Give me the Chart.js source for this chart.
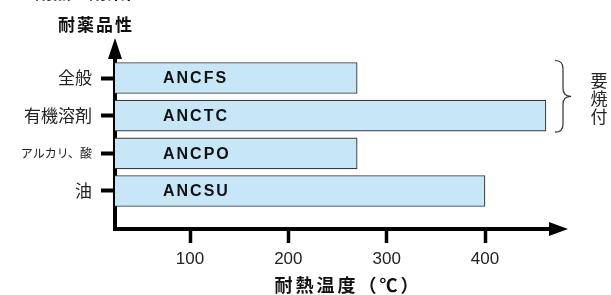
<!DOCTYPE html>
<html>
<head>
<meta charset="utf-8">
<script src="https://cdn.jsdelivr.net/npm/chart.js@4/dist/chart.umd.min.js"></script>
<style>
html,body{margin:0;padding:0;background:#fff;}
#wrap{width:611px;height:295px;position:relative;}
</style>
</head>
<body>
<div id="wrap"><canvas id="c"></canvas></div>
<script>
// ---- data ----
const categories = ['全般', '有機溶剤', 'アルカリ、酸', '油'];
const products = ['ANCFS', 'ANCTC', 'ANCPO', 'ANCSU'];
const heatTemps = [270, 462, 270, 400];
const xTickValues = [100, 200, 300, 400];
const xTitle = '耐熱温度（℃）';
const yTitle = '耐薬品性';
const bracketNote = ['要', '焼', '付'];
const topHeading = '■耐熱・耐薬性';

const JP = '"Noto Sans CJK JP", "Noto Sans", sans-serif';
const LAT = '"Liberation Sans", Arial, sans-serif';

const points = heatTemps.map((v, i) => ({ x: v, y: i }));

const decor = {
  id: 'decor',
  afterDraw(chart) {
    const ctx = chart.ctx;
    const a = chart.chartArea;
    const meta = chart.getDatasetMeta(0);
    ctx.save();
    // corner fill
    ctx.fillStyle = '#000';
    ctx.fillRect(a.left - 2, a.bottom - 2, 4, 4);
    // y arrow
    ctx.beginPath();
    ctx.moveTo(a.left, a.top - 20);
    ctx.lineTo(a.left - 7, a.top + 1);
    ctx.lineTo(a.left + 7, a.top + 1);
    ctx.closePath();
    ctx.fill();
    // x arrow
    ctx.beginPath();
    ctx.moveTo(a.right + 18, a.bottom);
    ctx.lineTo(a.right - 1, a.bottom - 7);
    ctx.lineTo(a.right - 1, a.bottom + 7);
    ctx.closePath();
    ctx.fill();

    // bar labels
    ctx.fillStyle = '#111';
    ctx.font = 'bold 16px ' + LAT;
    ctx.letterSpacing = '2px';
    ctx.textAlign = 'left';
    ctx.textBaseline = 'middle';
    meta.data.forEach((bar, i) => {
      ctx.fillText(products[i], a.left + 48, bar.y + 1);
    });
    ctx.letterSpacing = '0px';

    // y title
    ctx.fillStyle = '#111';
    ctx.font = 'bold 17px ' + JP;
    ctx.letterSpacing = '2px';
    ctx.textAlign = 'center';
    ctx.fillText(yTitle, a.left - 19, 25);
    // x title
    ctx.font = 'bold 18px ' + JP;
    ctx.letterSpacing = '3px';
    ctx.fillText(xTitle, 348, 285);
    ctx.letterSpacing = '0px';

    // top heading (cut off)
    ctx.font = 'bold 18px ' + JP;
    ctx.textAlign = 'left';
    ctx.textBaseline = 'bottom';
    ctx.fillText(topHeading, 17, 1);

    // bracket
    const b0 = meta.data[0], b1 = meta.data[1];
    const y0 = b0.y - b0.height / 2 - 2;
    const y1 = b1.y + b1.height / 2 + 1;
    const mid = (y0 + y1) / 2;
    const xl = 555, xm = 563, xt = 571;
    ctx.strokeStyle = '#333';
    ctx.lineWidth = 1.2;
    ctx.beginPath();
    ctx.moveTo(xl, y0);
    ctx.quadraticCurveTo(xm, y0, xm, y0 + 8);
    ctx.lineTo(xm, mid - 8);
    ctx.quadraticCurveTo(xm, mid, xt, mid);
    ctx.quadraticCurveTo(xm, mid, xm, mid + 8);
    ctx.lineTo(xm, y1 - 8);
    ctx.quadraticCurveTo(xm, y1, xl, y1);
    ctx.stroke();
    // vertical note
    ctx.fillStyle = '#222';
    ctx.font = '17px ' + JP;
    ctx.textAlign = 'center';
    ctx.textBaseline = 'middle';
    bracketNote.forEach((ch, i) => ctx.fillText(ch, 599, mid - 15.5 + i * 17.8));
    ctx.restore();
  }
};

new Chart(document.getElementById('c'), {
  type: 'bar',
  data: {
    datasets: [{
      data: points,
      backgroundColor: '#c7e7f9',
      borderColor: '#3a3a3a',
      borderWidth: 1.2,
      barThickness: 31
    }]
  },
  options: {
    indexAxis: 'y',
    responsive: true,
    maintainAspectRatio: false,
    animation: false,
    layout: { padding: { top: 58, right: 61, bottom: 0, left: 0 } },
    plugins: { legend: { display: false }, tooltip: { enabled: false } },
    scales: {
      x: {
        type: 'linear',
        position: 'bottom',
        min: 23.7,
        max: 466.1,
        z: 1,
        afterBuildTicks: s => { s.ticks = xTickValues.map(v => ({ value: v })); },
        afterFit: s => { s.height = 66; },
        grid: { drawOnChartArea: false, drawTicks: true, tickLength: 14, tickWidth: 3.5, tickColor: '#000' },
        border: { display: true, color: '#000', width: 4 },
        ticks: { color: '#222', font: { family: LAT, size: 17 }, padding: 6, maxRotation: 0 }
      },
      y: {
        type: 'linear',
        position: 'left',
        reverse: true,
        offset: false,
        min: -0.531,
        max: 4.009,
        z: 1,
        afterBuildTicks: s => { s.ticks = categories.map((_, i) => ({ value: i })); },
        afterFit: s => { s.width = 115; },
        grid: { offset: false, drawOnChartArea: false, drawTicks: true, tickLength: 14, tickWidth: 4, tickColor: '#000' },
        border: { display: true, color: '#000', width: 4 },
        ticks: {
          color: '#222',
          padding: 9,
          callback: v => categories[v] ?? '',
          font: c => (c.index === 2 ? { family: JP, size: 12 } : { family: JP, size: 17 })
        }
      }
    }
  },
  plugins: [decor]
});
</script>
</body>
</html>
